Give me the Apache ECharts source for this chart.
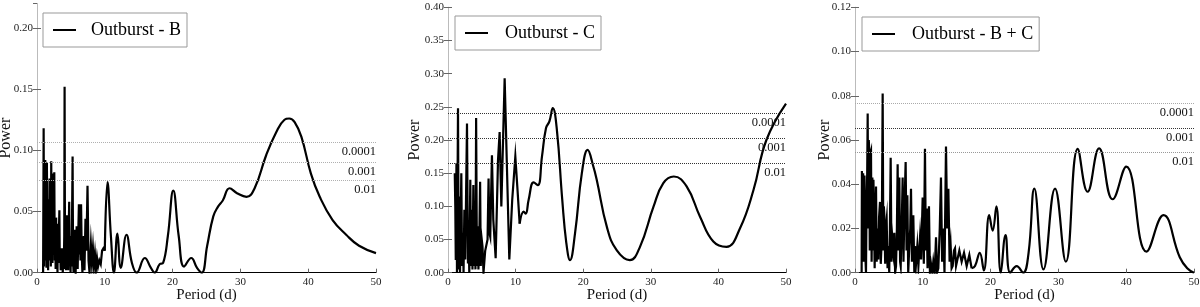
<!DOCTYPE html>
<html><head><meta charset="utf-8">
<script src="https://cdn.jsdelivr.net/npm/echarts@6/dist/echarts.min.js"></script>
<style>html,body{margin:0;padding:0;background:#fff}#c{width:1200px;height:307px}</style>
</head><body><div id="c"></div>
<script>
// ---------- DATA ----------
const xTickLabels = [0, 10, 20, 30, 40, 50];
const panelNames = ['Outburst - B', 'Outburst - C', 'Outburst - B + C'];
const sigLabels = ['0.0001', '0.001', '0.01'];

// Outburst - B
const bNoisyPeriod = [0.90,0.98,1.04,1.10,1.16,1.22,1.28,1.34,1.40,1.46,1.52,1.58,1.64,1.70,1.78,1.86,1.92,1.98,2.04,2.10,2.16,2.22,2.28,2.35,2.42,2.48,2.55,2.62,2.68,2.75,2.82,2.88,2.95,3.02,3.08,3.15,3.22,3.30,3.36,3.42,3.50,3.56,3.64,3.72,3.80,3.88,3.95,4.02,4.07,4.13,4.20,4.27,4.34,4.40,4.47,4.54,4.60,4.68,4.75,4.82,4.88,4.95,5.02,5.10,5.18,5.25,5.32,5.40,5.48,5.55,5.62,5.70,5.78,5.85,5.92,6.00,6.08,6.18,6.26,6.34,6.42,6.50,6.60,6.70,6.80,6.90,7.00,7.15,7.28,7.45,7.60,7.75,7.95,8.10,8.25,8.40,8.55,8.70,8.85,9.00,9.20,9.40,9.60,9.80,10.00];
const bNoisyPower = [0.000,0.118,0.005,0.060,0.010,0.092,0.015,0.070,0.004,0.090,0.020,0.045,0.002,0.060,0.010,0.077,0.025,0.045,0.005,0.091,0.030,0.060,0.008,0.081,0.015,0.050,0.082,0.010,0.040,0.003,0.045,0.015,0.040,0.000,0.040,0.012,0.030,0.051,0.008,0.020,0.002,0.018,0.004,0.020,0.000,0.016,0.003,0.030,0.152,0.010,0.040,0.002,0.025,0.047,0.006,0.030,0.002,0.035,0.058,0.008,0.025,0.000,0.030,0.005,0.050,0.095,0.010,0.000,0.022,0.035,0.004,0.000,0.020,0.038,0.010,0.003,0.030,0.056,0.015,0.025,0.010,0.056,0.015,0.000,0.020,0.030,0.002,0.044,0.018,0.071,0.010,0.000,0.023,0.008,0.020,0.005,0.015,0.003,0.012,0.005,0.010,0.007,0.018,0.020,0.018];
const bSmoothPeriod = [10.0,10.4,10.9,11.35,11.86,12.35,13.2,14.0,14.7,15.9,16.8,17.35,18.1,18.6,19.3,20.1,20.9,21.7,22.75,23.6,24.3,25.1,26.0,26.7,27.4,28.4,29.5,30.9,32.1,33.8,35.3,36.5,37.2,38.0,39.0,40.4,41.7,43.6,45.6,47.5,50.0];
const bSmoothPower = [0.018,0.074,0.030,0.000,0.032,0.004,0.031,0.008,0.000,0.012,0.004,0.000,0.007,0.008,0.030,0.067,0.030,0.005,0.012,0.004,0.000,0.022,0.046,0.054,0.059,0.069,0.065,0.062,0.069,0.096,0.115,0.125,0.126,0.123,0.111,0.081,0.062,0.043,0.031,0.022,0.016];
const bSig = [0.107, 0.0905, 0.0753];

// Outburst - C
const cNoisyPeriod = [1.00,1.08,1.15,1.25,1.33,1.48,1.58,1.68,1.78,1.97,2.08,2.20,2.30,2.42,2.55,2.81,2.95,3.05,3.15,3.30,3.40,3.55,3.62,3.75,3.88,4.00,4.06,4.16,4.28,4.40,4.50,4.62,4.75,4.85,4.95,5.10,5.25,5.37,5.50,5.65,5.85,6.00,6.12,6.25,6.50,6.70,7.05,7.40,7.64,7.89,8.38,9.07,9.50,9.96,10.25,10.60];
const cNoisyPower = [0.150,0.100,0.019,0.165,0.000,0.248,0.005,0.115,0.000,0.150,0.010,0.060,0.000,0.095,0.020,0.225,0.014,0.060,0.000,0.140,0.010,0.095,0.005,0.132,0.010,0.060,0.005,0.233,0.010,0.070,0.005,0.040,0.137,0.010,0.054,0.040,0.000,0.003,0.033,0.030,0.050,0.142,0.060,0.054,0.177,0.080,0.022,0.170,0.212,0.100,0.293,0.020,0.110,0.175,0.130,0.074];
const cSmoothPeriod = [10.6,11.2,11.5,11.93,12.67,13.3,13.9,14.5,15.0,15.5,16.1,16.9,17.5,18.05,18.8,19.8,20.66,21.5,22.0,23.5,24.95,26.9,28.4,30.4,31.85,33.4,35.3,37.3,39.25,41.2,43.2,45.2,47.1,50.0];
const cSmoothPower = [0.074,0.092,0.089,0.110,0.136,0.132,0.175,0.218,0.228,0.248,0.216,0.110,0.045,0.019,0.060,0.150,0.185,0.160,0.140,0.069,0.034,0.019,0.039,0.0995,0.135,0.145,0.130,0.084,0.047,0.039,0.067,0.125,0.200,0.255];
const cSig = [0.240, 0.2026, 0.165];

// Outburst - B + C
const bcNoisyPeriod = [0.98,1.02,1.10,1.20,1.30,1.40,1.50,1.62,1.70,1.80,1.87,1.95,2.03,2.11,2.18,2.28,2.36,2.45,2.56,2.65,2.72,2.80,2.90,3.00,3.10,3.20,3.30,3.44,3.55,3.69,3.80,3.95,4.08,4.18,4.25,4.33,4.45,4.55,4.67,4.80,4.92,5.05,5.15,5.26,5.38,5.50,5.65,5.80,5.92,6.05,6.18,6.29,6.40,6.54,6.65,6.74,6.88,7.03,7.15,7.30,7.47,7.60,7.72,7.85,8.01,8.15,8.26,8.40,8.60,8.75,8.85,9.00,9.19,9.35,9.59,9.75,9.98,10.15,10.32,10.45,10.57,10.70,10.91,11.05,11.21,11.40,11.55,11.75,11.95,12.10,12.29,12.50,12.68,12.85,13.03,13.20,13.42,13.60,13.77,13.95,14.11,14.25,14.41,14.60,14.75,14.90,15.09,15.39,15.73,16.08,16.47,16.86,17.20];
const bcNoisyPower = [0.000,0.046,0.020,0.045,0.005,0.044,0.010,0.000,0.030,0.045,0.072,0.020,0.060,0.055,0.010,0.054,0.055,0.005,0.043,0.010,0.042,0.027,0.002,0.025,0.039,0.005,0.020,0.006,0.025,0.032,0.004,0.015,0.081,0.010,0.030,0.026,0.004,0.020,0.024,0.002,0.012,0.000,0.020,0.052,0.005,0.016,0.010,0.018,0.000,0.003,0.020,0.049,0.010,0.043,0.005,0.003,0.020,0.043,0.005,0.030,0.050,0.010,0.035,0.000,0.012,0.020,0.038,0.005,0.026,0.000,0.012,0.004,0.012,0.003,0.016,0.006,0.034,0.004,0.056,0.010,0.029,0.002,0.030,0.000,0.004,0.000,0.005,0.000,0.016,0.000,0.002,0.020,0.043,0.005,0.020,0.000,0.057,0.020,0.038,0.005,0.012,0.002,0.003,0.010,0.011,0.003,0.003,0.010,0.005,0.009,0.003,0.008,0.002];
const bcSmoothPeriod = [17.2,17.7,18.4,19.0,19.8,20.3,20.85,21.5,22.2,22.9,23.85,24.8,25.6,26.45,27.8,29.5,31.1,32.85,34.3,36.0,38.0,40.0,43.0,45.5,47.9,49.0,50.0];
const bcSmoothPower = [0.002,0.003,0.009,0.001,0.026,0.019,0.030,0.000,0.017,0.000,0.003,0.000,0.009,0.038,0.0015,0.038,0.005,0.056,0.0366,0.0562,0.0332,0.048,0.0095,0.026,0.007,0.002,0.000];
const bcSig = [0.0766, 0.0653, 0.0543];

const yMaxes = [0.22, 0.40, 0.12];
const yIntervals = [0.05, 0.05, 0.02];

// ---------- CHART ----------
const FONT = 'Liberation Serif';
const zip = (a, b) => a.map((v, i) => [v, b[i]]);
const noisy = [zip(bNoisyPeriod, bNoisyPower), zip(cNoisyPeriod, cNoisyPower), zip(bcNoisyPeriod, bcNoisyPower)];
const smooth = [zip(bSmoothPeriod, bSmoothPower), zip(cSmoothPeriod, cSmoothPower), zip(bcSmoothPeriod, bcSmoothPower)];
const sigs = [bSig, cSig, bcSig];
const sigColors = [['#b0b0b0','#b0b0b0','#b0b0b0'], ['#333','#333','#333'], ['#aaa','#333','#999']];
const powerGap = [23, 25, 22];

const grids = [
  {left: 37, top: 3.5, width: 339, height: 269.2},
  {left: 448, top: 7.3, width: 338, height: 265.4},
  {left: 855, top: 7.3, width: 339, height: 265.4}
].map(g => Object.assign(g, {containLabel: false, outerBoundsMode: 'none'}));
const legendPos = [
  {left: 43, top: 13, textPad: 10},
  {left: 455, top: 16, textPad: 12},
  {left: 862, top: 17, textPad: 12}
];

const xAxis = [], yAxis = [], series = [], legend = [];
for (let i = 0; i < 3; i++) {
  xAxis.push({
    gridIndex: i, type: 'value', min: xTickLabels[0], max: xTickLabels[xTickLabels.length - 1], interval: 10,
    name: 'Period (d)', nameLocation: 'middle', nameGap: 15, nameMoveOverlap: false,
    nameTextStyle: {fontFamily: FONT, fontSize: 15, color: '#111'},
    axisLine: {show: true, lineStyle: {color: '#bbb', width: 1}},
    axisTick: {show: true, inside: true, length: 4, lineStyle: {color: '#666'}},
    axisLabel: {fontFamily: FONT, fontSize: 11, color: '#222', margin: 4},
    splitLine: {show: false}
  });
  xAxis.push({
    gridIndex: i, type: 'value', position: 'top', min: 0, max: 50,
    axisLine: {show: true, lineStyle: {color: '#000', width: 1}},
    axisTick: {show: false}, axisLabel: {show: false}, splitLine: {show: false}
  });
  yAxis.push({
    gridIndex: i, type: 'value', min: 0, max: yMaxes[i], interval: yIntervals[i],
    name: 'Power', nameLocation: 'middle', nameRotate: 90, nameGap: powerGap[i], nameMoveOverlap: false,
    nameTextStyle: {fontFamily: FONT, fontSize: 16, color: '#111'},
    axisLine: {show: true, lineStyle: {color: '#bbb', width: 1}},
    axisTick: {show: true, inside: true, length: 4, lineStyle: {color: '#666'}},
    axisLabel: {fontFamily: FONT, fontSize: 11, color: '#222', margin: 4,
      formatter: v => v.toFixed(2), showMaxLabel: i !== 0},
    splitLine: {show: false}
  });
  yAxis.push({
    gridIndex: i, type: 'value', position: 'right', min: 0, max: yMaxes[i], interval: yIntervals[i],
    axisLine: {show: true, lineStyle: {color: '#bbb', width: 1}},
    axisTick: {show: true, inside: true, length: 4, lineStyle: {color: '#666'}},
    axisLabel: {show: false}, splitLine: {show: false}
  });
  series.push({
    name: panelNames[i], type: 'line', xAxisIndex: 2 * i, yAxisIndex: 2 * i,
    data: noisy[i], smooth: false, showSymbol: false, symbol: 'none',
    lineStyle: {color: '#000', width: 2.2, join: 'miter', miterLimit: 20}, itemStyle: {color: '#000'},
    markLine: {
      silent: true, symbol: 'none', precision: 5,
      label: {show: true, position: 'insideEndBottom', formatter: '{b}', fontFamily: FONT, fontSize: 12.5, color: '#111', distance: [0, 3]},
      data: sigs[i].map((v, k) => ({name: sigLabels[k], yAxis: v, lineStyle: {color: sigColors[i][k], type: 'dotted', width: 1}}))
    }
  });
  series.push({
    name: panelNames[i], type: 'line', xAxisIndex: 2 * i, yAxisIndex: 2 * i,
    data: smooth[i], smooth: 0.45, showSymbol: false, symbol: 'none',
    lineStyle: {color: '#000', width: 2.2}, itemStyle: {color: '#000'}
  });
  legend.push({
    data: [panelNames[i]], left: legendPos[i].left, top: legendPos[i].top,
    icon: 'rect', itemWidth: 23, itemHeight: 2, itemGap: 0,
    borderColor: '#999', borderWidth: 1, backgroundColor: '#fff',
    padding: [7, 6, 7, 10], selectedMode: false,
    textStyle: {fontFamily: FONT, fontSize: 18, color: '#000', padding: [0, 0, 0, legendPos[i].textPad], lineHeight: 20}
  });
}

const chart = echarts.init(document.getElementById('c'), null, {renderer: 'canvas'});
chart.setOption({animation: false, backgroundColor: '#fff', grid: grids, xAxis, yAxis, series, legend});
</script></body></html>
